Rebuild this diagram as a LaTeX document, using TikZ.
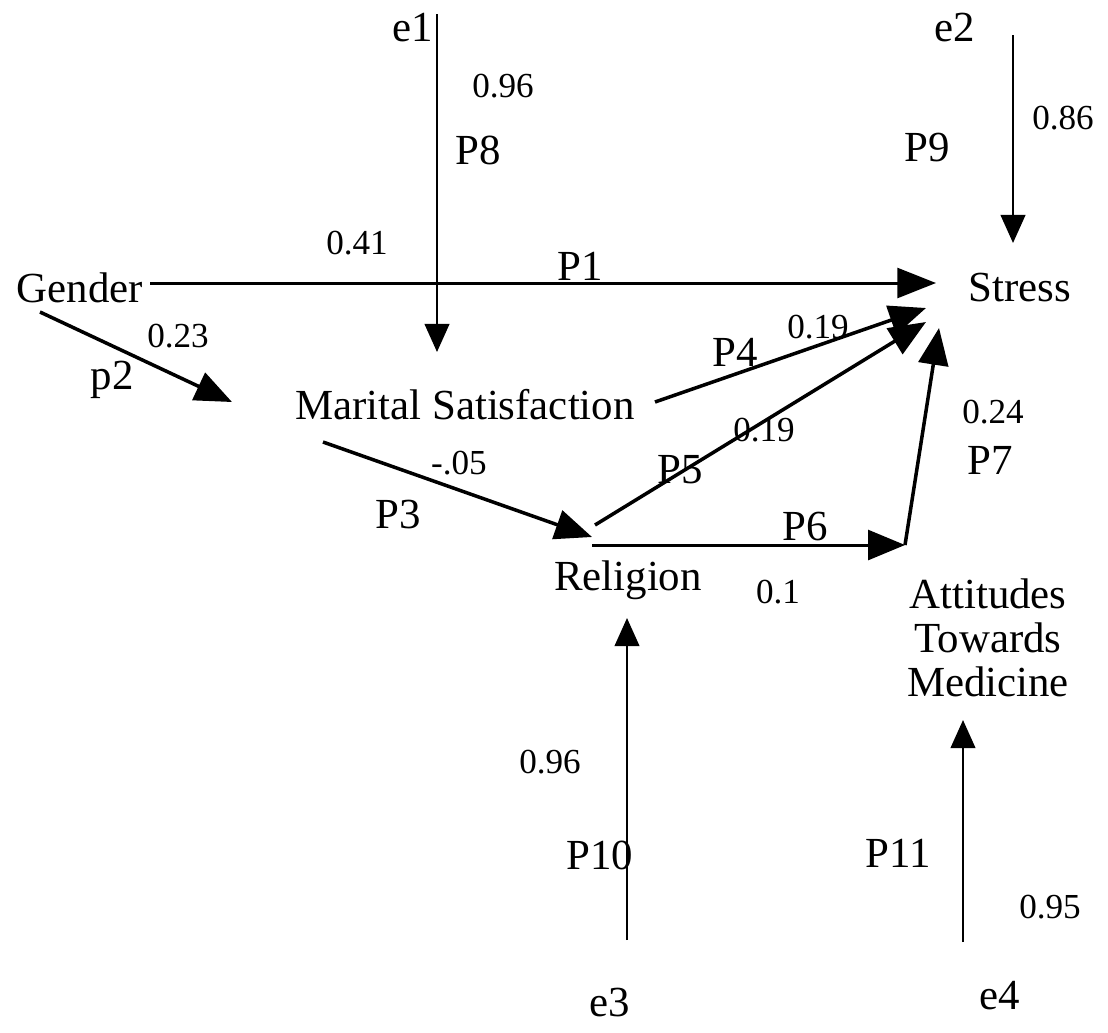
\documentclass[tikz,border=0pt]{standalone}
\usepackage{fontspec}
\setmainfont{Liberation Serif}
\usetikzlibrary{arrows.meta}
\begin{document}
\begin{tikzpicture}[x=0.02cm,y=-0.02cm,
  var/.style={inner sep=0pt,font=\fontsize{24.4}{27}\selectfont,align=center},
  plab/.style={inner sep=0pt,font=\fontsize{24.4}{27}\selectfont},
  num/.style={inner sep=0pt,font=\fontsize{20}{22}\selectfont},
  vline/.style={line width=1.4pt,-{Triangle[length=16pt,width=14pt]}},
  dline/.style={line width=2pt,-{Triangle[length=21pt,width=17pt]}}]
\useasboundingbox (0,0) rectangle (1108,1032);
% variables
\node[var] (gender) at (80,288) {Gender};
\node[var] (stress) at (1020,288) {Stress};
\node[var] (ms) at (465,405) {Marital Satisfaction};
\node[var] (rel) at (628,580) {Religion};
\node[var,font=\fontsize{24.4}{25}\selectfont] (atm) at (988,638) {Attitudes\\Towards\\Medicine};
\node[var] (e1) at (413,28) {e1};
\node[var] (e2) at (955,28) {e2};
\node[var] (e3) at (610,1002) {e3};
\node[var] (e4) at (1000,996) {e4};
% connector end points
\coordinate (e1s) at (437,14);
\coordinate (e1t) at (437,352);
\coordinate (e2s) at (1013,35);
\coordinate (e2t) at (1013,243);
\coordinate (e3s) at (627,940);
\coordinate (e3t) at (627,618);
\coordinate (e4s) at (963,942);
\coordinate (e4t) at (963,720);
\coordinate (gs) at (150,283);
\coordinate (st1) at (936,283);
\coordinate (g2s) at (40,312);
\coordinate (mst) at (232,402);
\coordinate (ms4) at (655,402);
\coordinate (st4) at (926,308);
\coordinate (ms3) at (323,442);
\coordinate (relt) at (592,537);
\coordinate (rel5) at (595,525);
\coordinate (st5) at (926,322);
\coordinate (rel6) at (592,545);
\coordinate (atmt) at (905,545);
\coordinate (atm7) at (905,545);
\coordinate (st7) at (939,328);
% connectors
\draw[vline] (e1s) -- (e1t);
\draw[vline] (e2s) -- (e2t);
\draw[vline] (e3s) -- (e3t);
\draw[vline] (e4s) -- (e4t);
\draw[line width=1.7pt,-{Triangle[length=22pt,width=17pt]}] (gs) -- (st1);
\draw[dline] (g2s) -- (mst);
\draw[dline] (ms4) -- (st4);
\draw[dline] (ms3) -- (relt);
\draw[dline] (rel5) -- (st5);
\draw[line width=1.7pt,-{Triangle[length=21pt,width=17pt]}] (rel6) -- (atmt);
\draw[dline] (atm7) -- (st7);
% labels
\node[num] (n1) at (503,86) {0.96};
\node[plab] (p8) at (478,150) {P8};
\node[num] (n2) at (1063,118) {0.86};
\node[plab] (p9) at (927,148) {P9};
\node[num] (n3) at (357,243) {0.41};
\node[plab] (p1) at (580,266) {P1};
\node[num] (n4) at (178,336) {0.23};
\node[plab] (p2) at (112,380) {p2};
\node[plab] (p4) at (735,352) {P4};
\node[num] (n5) at (818,327) {0.19};
\node[num] (n6) at (764,430) {0.19};
\node[plab] (p5) at (680,470) {P5};
\node[num] (n7) at (993,412) {0.24};
\node[plab] (p7) at (990,460) {P7};
\node[num] (n8) at (459,463) {-.05};
\node[plab] (p3) at (398,515) {P3};
\node[plab] (p6) at (805,527) {P6};
\node[num] (n9) at (778,592) {0.1};
\node[num] (n10) at (550,762) {0.96};
\node[plab] (p10) at (600,855) {P10};
\node[plab] (p11) at (898,853) {P11};
\node[num] (n11) at (1050,907) {0.95};
\end{tikzpicture}
\end{document}
